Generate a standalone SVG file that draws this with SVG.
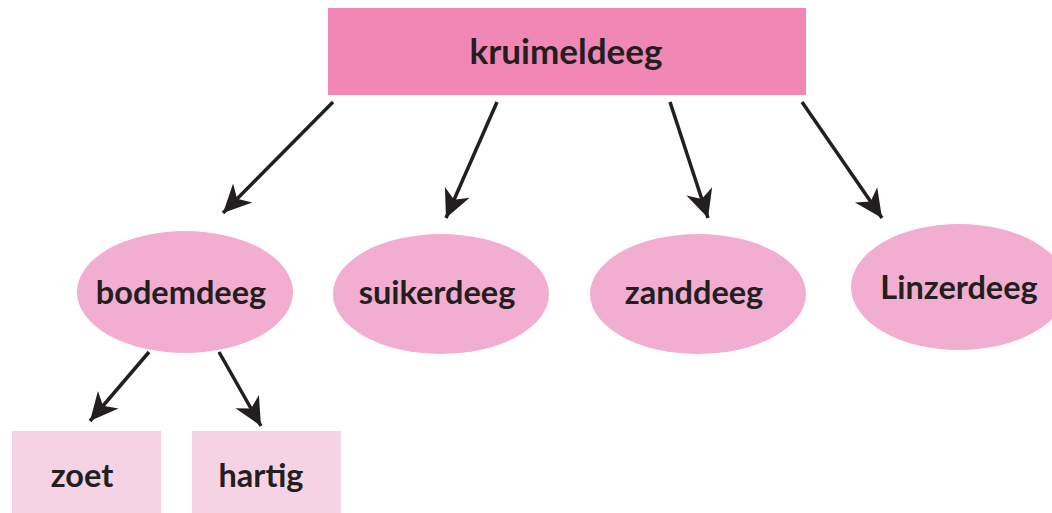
<svg xmlns="http://www.w3.org/2000/svg" width="1052" height="513" viewBox="0 0 1052 513">
<style>
text{font-family:"Lato","Liberation Sans",sans-serif;font-weight:bold;fill:#231f20;text-anchor:middle;dominant-baseline:central}
.top{fill:#f087b5}
.ell{fill:#f2aed0}
.leaf{fill:#f5d3e4}
.conn line{stroke:#231f20;stroke-width:3.5;marker-end:url(#ah)}
</style>
<defs>
<marker id="ah" markerUnits="userSpaceOnUse" markerWidth="40" markerHeight="40" viewBox="-30 -20 34 40" refX="0" refY="0" orient="auto">
<path d="M0,0 L-28,-13.5 L-20,0 L-28,13.5 Z" fill="#231f20"/>
</marker>
</defs>
<rect width="1052" height="513" fill="#fff"/>
<g id="kruimeldeeg"><rect class="top" x="328" y="8" width="478" height="87"/><text x="566" y="50" font-size="35">kruimeldeeg</text></g>
<g id="bodemdeeg"><ellipse class="ell" cx="185" cy="292" rx="108" ry="61"/><text x="181" y="291" font-size="32.5">bodemdeeg</text></g>
<g id="suikerdeeg"><ellipse class="ell" cx="441" cy="294" rx="108" ry="60"/><text x="437" y="291" font-size="32.5">suikerdeeg</text></g>
<g id="zanddeeg"><ellipse class="ell" cx="698" cy="294" rx="108" ry="60"/><text x="694" y="291" font-size="32.5">zanddeeg</text></g>
<g id="Linzerdeeg"><ellipse class="ell" cx="959" cy="287" rx="108" ry="63"/><text x="959" y="286" font-size="32.5">Linzerdeeg</text></g>
<g id="zoet"><rect class="leaf" x="12" y="431" width="149" height="82"/><text x="82" y="474" font-size="32.5">zoet</text></g>
<g id="hartig"><rect class="leaf" x="192" y="431" width="149" height="82"/><text x="261" y="474" font-size="32.5">hartig</text></g>
<g class="conn" id="connectors">
<line x1="333" y1="102" x2="223" y2="213"/>
<line x1="497" y1="102" x2="446" y2="218"/>
<line x1="670" y1="102" x2="708" y2="218"/>
<line x1="802" y1="102" x2="882" y2="218"/>
<line x1="149" y1="352" x2="90" y2="421"/>
<line x1="219" y1="352" x2="261" y2="426"/>
</g>
</svg>
